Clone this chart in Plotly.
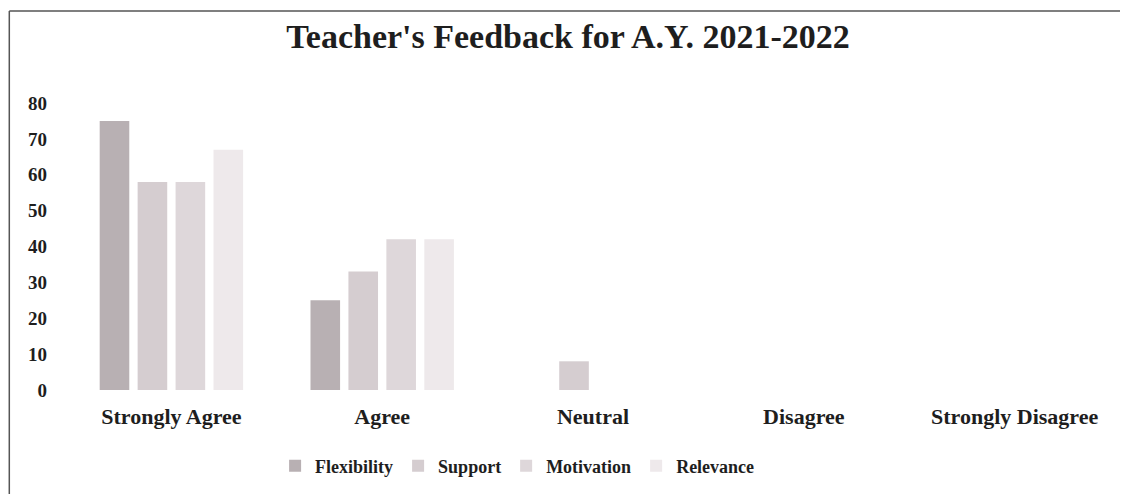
import plotly.graph_objects as go

categories = ["Strongly Agree", "Agree", "Neutral", "Disagree", "Strongly Disagree"]
series_names = ["Flexibility", "Support", "Motivation", "Relevance"]
flexibility = [75, 25, 0, 0, 0]
support = [58, 33, 8, 0, 0]
motivation = [58, 42, 0, 0, 0]
relevance = [67, 42, 0, 0, 0]
y_ticks = [0, 10, 20, 30, 40, 50, 60, 70, 80]

colors = ["#b8b0b3", "#d5cdd0", "#ded7da", "#eee9eb"]
values = [flexibility, support, motivation, relevance]

# page body has an 8px margin, so the figure is sized to fit the window
W, H = 1120, 486
ML, MR, MT, MB = 57.5, 7.5, 95, 104
font_family = "Liberation Serif, Times New Roman, serif"
txt = "#1e1e1e"

fig = go.Figure()
for name, vals, col in zip(series_names, values, colors):
    fig.add_trace(go.Bar(x=categories, y=vals, name=name, marker_color=col,
                         marker_line_width=0))

pw = W - ML - MR
ph = H - MT - MB
def px_x(px):
    return (px - ML) / pw
def px_y(py):
    return (H - MB - py) / ph

fig.update_layout(
    width=W, height=H,
    margin=dict(l=ML, r=MR, t=MT, b=MB, autoexpand=False),
    paper_bgcolor="white", plot_bgcolor="white",
    barmode="group", bargap=0.28, bargroupgap=0.22,
    title=dict(text="<b>Teacher's Feedback for A.Y. 2021-2022</b>",
               x=0.5, xref="container", xanchor="center",
               y=1 - 28 / H, yanchor="middle",
               font=dict(family=font_family, size=34, color=txt)),
    font=dict(family=font_family, color=txt),
    xaxis=dict(showgrid=False, showline=False, zeroline=False, ticks="",
               tickfont=dict(family=font_family, size=22, color=txt, weight="bold"),
               ticklabelstandoff=11),
    yaxis=dict(range=[0, 80], tickvals=y_ticks, showgrid=False, showline=False,
               zeroline=False, ticks="",
               tickfont=dict(family=font_family, size=19, color=txt, weight="bold"),
               ticklabelstandoff=18),
    legend=dict(orientation="h", x=0.455, xanchor="center", xref="container",
                y=1 - 458 / H, yref="container", yanchor="middle",
                font=dict(family=font_family, size=18, color=txt, weight="bold"),
                itemwidth=30, traceorder="normal"),
    shapes=[
        dict(type="line", xref="paper", yref="paper",
             x0=px_x(0.75), x1=px_x(W), y0=px_y(3), y1=px_y(3),
             line=dict(color="#555555", width=1.5)),
        dict(type="line", xref="paper", yref="paper",
             x0=px_x(0.75), x1=px_x(0.75), y0=px_y(3), y1=px_y(H),
             line=dict(color="#555555", width=1.5)),
    ],
)

fig.write_html("out.html")
